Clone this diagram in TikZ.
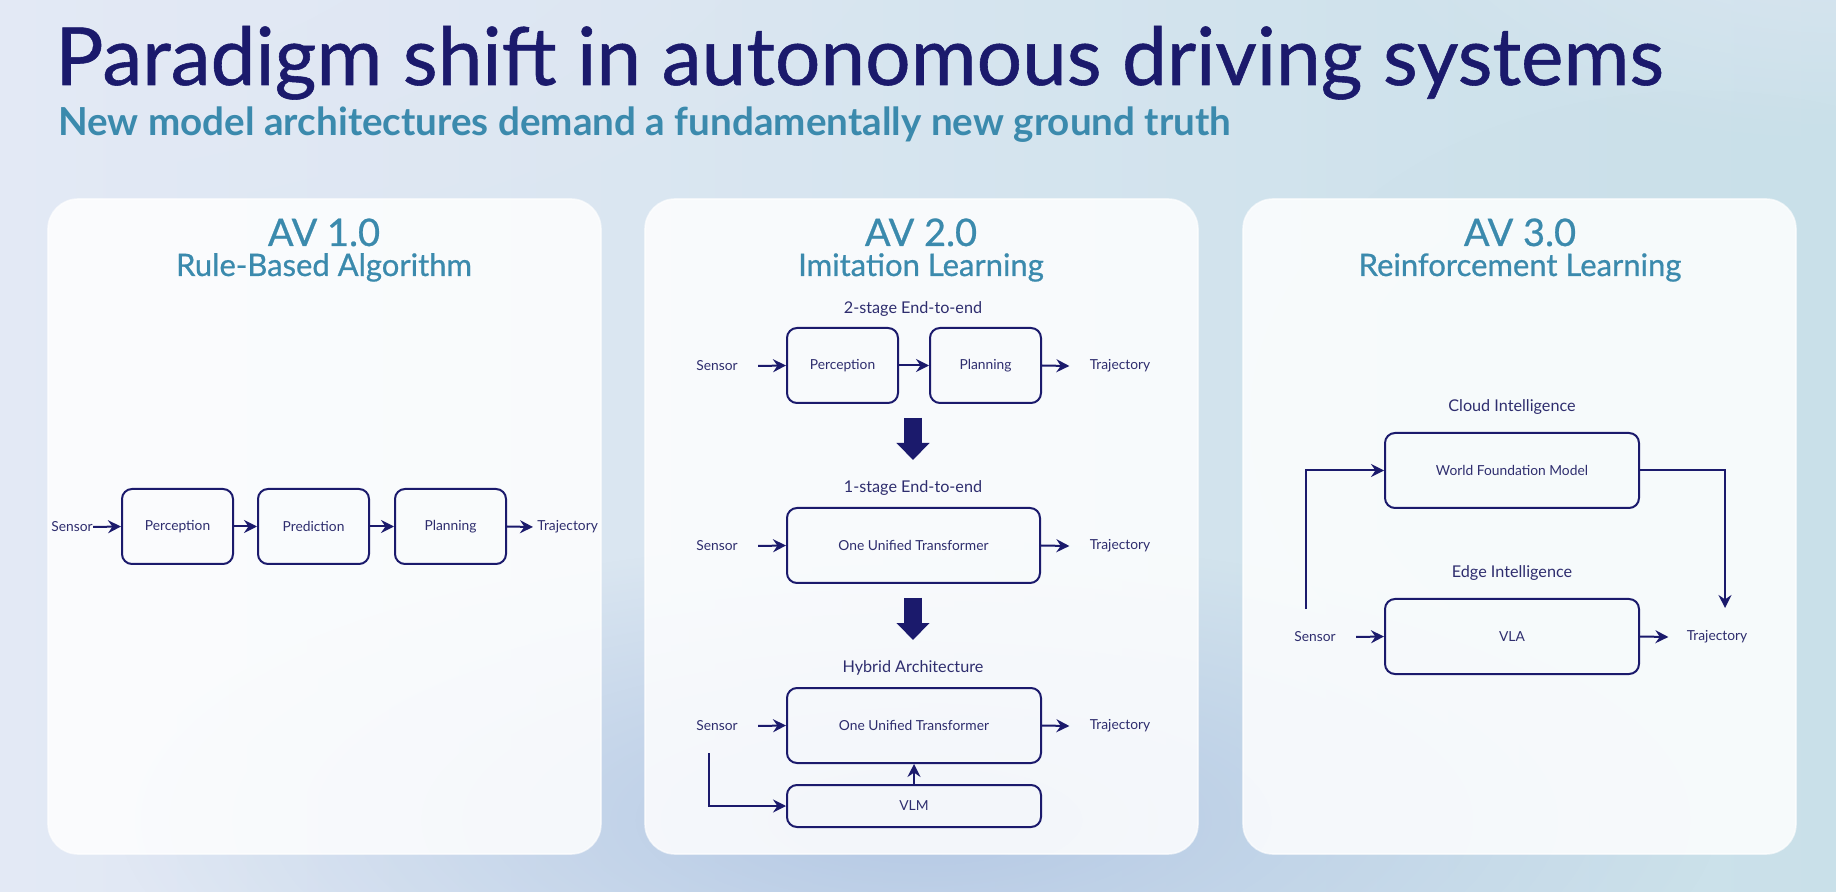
\documentclass[tikz,border=0pt]{standalone}
\usepackage{fontspec}
\setmainfont{Lato}
\newfontfamily\medfont[FakeBold=0.7]{Lato}
\usetikzlibrary{arrows.meta,fadings}
\tikzfading[name=radfade, inner color=transparent!0, outer color=transparent!100]
\definecolor{navy}{HTML}{1B1A6C}
\definecolor{avteal}{HTML}{3B8AAD}
\definecolor{labc}{HTML}{2E2D6E}
\definecolor{bgA}{HTML}{E3E9F5}
\definecolor{bgB}{HTML}{C9E0E9}
\definecolor{bgC}{HTML}{B3C7E4}
\tikzset{
  panel/.style={fill=white, fill opacity=0.84, draw=white, draw opacity=0.6, line width=0.8pt, rounded corners=15pt},
  box/.style={draw=navy, line width=1pt, rounded corners=5pt, text=labc, font=\fontsize{6.9pt}{8pt}\selectfont, inner sep=0pt, align=center},
  lab/.style={text=labc, font=\fontsize{6.9pt}{8pt}\selectfont, inner sep=0pt},
  caplab/.style={text=labc, font=\fontsize{8.1pt}{9pt}\selectfont, inner sep=0pt},
  arr/.style={draw=navy, line width=1pt, -{Stealth[length=6.5pt,width=6.5pt,inset=2.2pt]}},
  bigarr/.style={draw=navy, line width=9pt, -{Triangle[length=8.5pt,width=16pt]}},
  avhead/.style={text=avteal, font=\medfont\fontsize{19pt}{20pt}\selectfont, inner sep=0pt, anchor=base},
  avsub/.style={text=avteal, font=\medfont\fontsize{15.5pt}{16pt}\selectfont, inner sep=0pt, anchor=base},
}
\begin{document}
\begin{tikzpicture}[x=0.5pt,y=-0.5pt]
\useasboundingbox (0,0) rectangle (1836,892);
% background
\shade[left color=bgA, right color=bgB] (0,0) rectangle (1836,892);
\fill[bgA, path fading=radfade] (-100,-150) ellipse (1100 and 500);
\fill[bgA, path fading=radfade, opacity=0.7] (1836,-100) ellipse (500 and 250);
\fill[bgC, path fading=radfade, opacity=0.95] (920,820) ellipse (800 and 280);
\fill[bgB, path fading=radfade, opacity=0.8] (1700,420) ellipse (450 and 330);

% title
\node[anchor=base west, inner sep=0pt, text=navy, font=\medfont\fontsize{40.1pt}{41pt}\selectfont] (title) at (55,85) {Paradigm shift in autonomous driving systems};
\node[anchor=base west, inner sep=0pt, text=avteal, font=\bfseries\fontsize{19.3pt}{20pt}\selectfont] (subtitle) at (58,136) {New model architectures demand a fundamentally new ground truth};

% panels
\fill[panel] (48,199) rectangle (601,854);
\fill[panel] (645,199) rectangle (1198,854);
\fill[panel] (1243,199) rectangle (1796,854);

\node[avhead] (h1) at (324,246) {AV 1.0};
\node[avsub] (s1) at (324,276) {Rule-Based Algorithm};
\node[avhead] (h2) at (921,246) {AV 2.0};
\node[avsub] (s2) at (921,276) {Imitation Learning};
\node[avhead] (h3) at (1520,246) {AV 3.0};
\node[avsub] (s3) at (1520,276) {Reinforcement Learning};

% ---- panel 1
\node[lab] (a1s) at (72,527) {Sensor};
\node[box, minimum width=55.5pt, minimum height=37.5pt] (a1p) at (177.5,526.5) {Perception};
\node[box, minimum width=55.5pt, minimum height=37.5pt] (a1r) at (313.5,526.5) {Prediction};
\node[box, minimum width=55.5pt, minimum height=37.5pt] (a1n) at (450.5,526.5) {Planning};
\node[lab, anchor=west] (a1t) at (537,527) {Trajectory};
\draw[arr] (a1s.east) -- (a1p.west);
\draw[arr] (a1p.east) -- (a1r.west);
\draw[arr] (a1r.east) -- (a1n.west);
\draw[arr] (a1n.east) -- ([xshift=-2pt]a1t.west);

% ---- panel 2
\node[caplab] (c2a) at (913,309) {2-stage End-to-end};
\node[lab] (b1s) at (717,366) {Sensor};
\node[box, minimum width=55.5pt, minimum height=37.5pt] (b1p) at (842.5,365.5) {Perception};
\node[box, minimum width=55.5pt, minimum height=37.5pt] (b1n) at (985.5,365.5) {Planning};
\node[lab] (b1t) at (1120,366) {Trajectory};
\draw[arr] ([xshift=10pt]b1s.east) -- (b1p.west);
\draw[arr] (b1p.east) -- (b1n.west);
\draw[arr] (b1n.east) -- ([xshift=-10pt]b1t.west);

\coordinate (d1a) at (913,418);
\coordinate (d1b) at (913,460);
\draw[bigarr] (d1a) -- (d1b);

\node[caplab] (c2b) at (913,488) {1-stage End-to-end};
\node[lab] (b2s) at (717,546) {Sensor};
\node[box, minimum width=126.5pt, minimum height=37.5pt] (b2u) at (913.5,545.5) {One Unified Transformer};
\node[lab] (b2t) at (1120,546) {Trajectory};
\draw[arr] ([xshift=10pt]b2s.east) -- (b2u.west);
\draw[arr] (b2u.east) -- ([xshift=-10pt]b2t.west);

\coordinate (d2a) at (913,598);
\coordinate (d2b) at (913,640);
\draw[bigarr] (d2a) -- (d2b);

\node[caplab] (c2c) at (913,668) {Hybrid Architecture};
\node[lab] (b3s) at (717,726) {Sensor};
\node[box, minimum width=127pt, minimum height=37.5pt] (b3u) at (914,725.5) {One Unified Transformer};
\node[lab] (b3t) at (1120,726) {Trajectory};
\node[box, minimum width=127pt, minimum height=21pt] (b3v) at (914,806) {VLM};
\draw[arr] ([xshift=10pt]b3s.east) -- (b3u.west);
\draw[arr] (b3u.east) -- ([xshift=-10pt]b3t.west);
\coordinate (b3h) at (709,753);
\draw[arr] (b3h) |- (b3v.west);
\draw[arr] (b3v.north) -- (b3u.south);

% ---- panel 3
\node[caplab] (c3a) at (1512,407) {Cloud Intelligence};
\node[box, minimum width=127pt, minimum height=37.5pt] (c3w) at (1512,470.5) {World Foundation Model};
\node[caplab] (c3b) at (1512,573) {Edge Intelligence};
\node[lab] (c3s) at (1315,637) {Sensor};
\node[box, minimum width=127pt, minimum height=37.5pt] (c3v) at (1512,636.5) {VLA};
\node[lab] (c3t) at (1717,637) {Trajectory};
\draw[arr] ([xshift=10pt]c3s.east) -- (c3v.west);
\draw[arr] (c3v.east) -- ([xshift=-9pt]c3t.west);
\coordinate (c3h) at (1306,609);
\draw[arr] (c3h) |- (c3w.west);
\coordinate (c3d) at (1725,608);
\draw[arr] (c3w.east) -| (c3d);
\end{tikzpicture}
\end{document}
